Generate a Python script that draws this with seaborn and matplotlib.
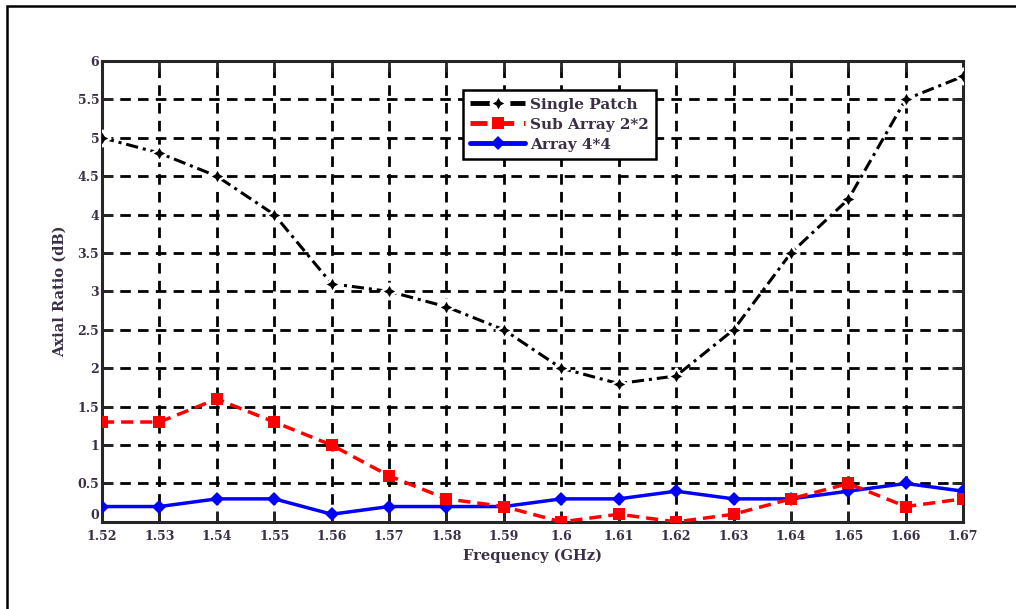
import numpy as np
import pandas as pd
import matplotlib
matplotlib.use("Agg")
import matplotlib.pyplot as plt
import seaborn as sns
from matplotlib.patches import Rectangle

freq = [1.52, 1.53, 1.54, 1.55, 1.56, 1.57, 1.58, 1.59,
        1.60, 1.61, 1.62, 1.63, 1.64, 1.65, 1.66, 1.67]
single_patch = [5.0, 4.8, 4.5, 4.0, 3.1, 3.0, 2.8, 2.5,
                2.0, 1.8, 1.9, 2.5, 3.5, 4.2, 5.5, 5.8]
sub_array = [1.3, 1.3, 1.6, 1.3, 1.0, 0.6, 0.3, 0.2,
             0.0, 0.1, 0.0, 0.1, 0.3, 0.5, 0.2, 0.3]
array_44 = [0.2, 0.2, 0.3, 0.3, 0.1, 0.2, 0.2, 0.2,
            0.3, 0.3, 0.4, 0.3, 0.3, 0.4, 0.5, 0.4]
series_names = ["Single Patch", "Sub Array 2*2", "Array 4*4"]
y_ticks = [0, 0.5, 1, 1.5, 2, 2.5, 3, 3.5, 4, 4.5, 5, 5.5, 6]

sns.set_style("ticks")
plt.rcParams["font.family"] = ["DejaVu Serif"]
txt_col = "#3a2f45"

df = pd.DataFrame({"freq": freq, series_names[0]: single_patch,
                   series_names[1]: sub_array, series_names[2]: array_44})

fig = plt.figure(figsize=(10.16, 6.09), dpi=100)
ax = fig.add_axes([0.1004, 0.143, 0.8476, 0.757])

# outer frame (only top and left visible in the reference)
fig.patches.append(Rectangle((7 / 1016, -0.1), 1.2, 1.1 - 6 / 609,
                             transform=fig.transFigure, fill=False,
                             edgecolor="black", linewidth=1.8, zorder=0))

sns.lineplot(data=df, x="freq", y=series_names[0], ax=ax, color="black",
             linestyle=(0, (4, 1.6, 1, 1.6)), linewidth=2.2, marker=(4, 1, 0),
             markersize=12, markeredgewidth=1.8, label=series_names[0], zorder=5)
sns.lineplot(data=df, x="freq", y=series_names[1], ax=ax, color="red",
             linestyle=(0, (3.5, 2)), linewidth=2.5, marker="s",
             markersize=9, markeredgewidth=0, label=series_names[1], zorder=4)
sns.lineplot(data=df, x="freq", y=series_names[2], ax=ax, color="blue",
             linestyle="-", linewidth=2.5, marker="D",
             markersize=7, markeredgewidth=0, label=series_names[2], zorder=3)

ax.set_xlim(freq[0], freq[-1])
ax.set_ylim(0, 6)
ax.set_xticks(freq)
ax.set_xticklabels([f"{f:g}" for f in freq])
ax.set_yticks(y_ticks)
ax.set_yticklabels([f"{v:g}" for v in y_ticks])

ax.grid(True, color="black", linestyle=(0, (3.8, 2.6)), linewidth=2.0)
ax.set_axisbelow(True)
ax.tick_params(direction="in", length=8, width=2, top=True, right=True,
               labelsize=9, labelcolor=txt_col)
ax.tick_params(axis="x", pad=6)
ax.tick_params(axis="y", pad=2)
for lab in ax.get_xticklabels() + ax.get_yticklabels():
    lab.set_fontweight("bold")
ax.get_yticklabels()[0].set_verticalalignment("bottom")
for sp in ax.spines.values():
    sp.set_linewidth(2.2)
    sp.set_visible(True)

ax.set_xlabel("Frequency (GHz)", fontsize=10.5, fontweight="bold",
              color=txt_col, labelpad=4)
ax.set_ylabel("Axial Ratio (dB)", fontsize=10.5, fontweight="bold",
              color=txt_col, labelpad=8)

leg = ax.legend(loc="upper left", bbox_to_anchor=(0.419, 0.937),
                fancybox=False, framealpha=1, edgecolor="black",
                prop={"size": 11, "weight": "bold", "family": "DejaVu Serif"},
                handlelength=3.6, handletextpad=0.3, borderpad=0.5,
                labelspacing=0.4, borderaxespad=0)
leg.get_frame().set_linewidth(1.8)
for t in leg.get_texts():
    t.set_color(txt_col)
for h in leg.get_lines():
    h.set_linewidth(3.5)

fig.savefig("out.png", dpi=100)
